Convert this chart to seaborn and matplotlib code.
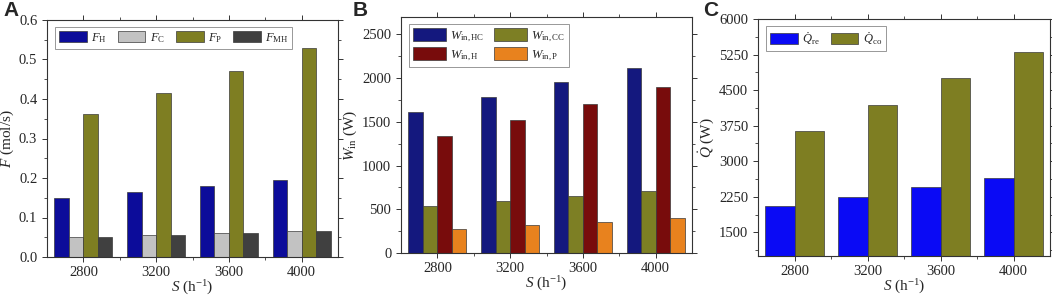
import numpy as np
import pandas as pd
import matplotlib
matplotlib.use("Agg")
import matplotlib.pyplot as plt
from matplotlib.ticker import MultipleLocator, FixedLocator
import seaborn as sns

# ---------------- data ----------------
categories = ["2800", "3200", "3600", "4000"]

F_H = [0.150, 0.165, 0.180, 0.195]
F_C = [0.050, 0.055, 0.060, 0.065]
F_P = [0.362, 0.416, 0.472, 0.528]
F_MH = [0.050, 0.055, 0.060, 0.065]

W_HC = [1615, 1785, 1955, 2120]
W_CC = [535, 590, 650, 705]
W_H = [1340, 1525, 1710, 1895]
W_P = [280, 315, 355, 395]

Q_re = [2050, 2250, 2450, 2640]
Q_co = [3640, 4180, 4750, 5310]

labels_A = [r"$F_\mathrm{H}$", r"$F_\mathrm{C}$", r"$F_\mathrm{P}$", r"$F_\mathrm{MH}$"]
labels_B = [r"$W_\mathrm{in,HC}$", r"$W_\mathrm{in,CC}$", r"$W_\mathrm{in,H}$", r"$W_\mathrm{in,P}$"]
labels_C = [r"$\dot{Q}_\mathrm{re}$", r"$\dot{Q}_\mathrm{co}$"]

colors_A = ["#0C0C9A", "#C2C2C2", "#7E7E22", "#404040"]
colors_B = ["#14187E", "#7D7F24", "#780C0C", "#E8821E"]
colors_C = ["#0A0AF5", "#7E7E22"]

# ---------------- style ----------------
sns.set_theme(style="ticks")
plt.rcParams["font.family"] = ["Liberation Serif", "DejaVu Serif"]
plt.rcParams["mathtext.fontset"] = "custom"
plt.rcParams["mathtext.rm"] = "Liberation Serif"
plt.rcParams["mathtext.it"] = "Liberation Serif:italic"
plt.rcParams["mathtext.bf"] = "Liberation Serif:bold"
plt.rcParams["axes.linewidth"] = 0.8
plt.rcParams["axes.edgecolor"] = "#333333"


def long_df(series, names):
    rows = []
    for vals, nm in zip(series, names):
        for c, v in zip(categories, vals):
            rows.append({"S": c, "val": v, "series": nm})
    return pd.DataFrame(rows)


fig = plt.figure(figsize=(10.52, 2.97), dpi=100)
W, H = 1052, 297


def add_ax(l, r, t, b):
    return fig.add_axes([l / W, 1 - b / H, (r - l) / W, (b - t) / H])


axA = add_ax(47, 338, 20, 257)
axB = add_ax(401, 692, 17, 253)
axC = add_ax(758, 1050, 19, 256)


def draw(ax, series, names, colors, ylim, major, minor, ylabel, ncol,
         order=None, leg_kw=None):
    df = long_df(series, names)
    sns.barplot(data=df, x="S", y="val", hue="series", hue_order=names,
                palette=colors, ax=ax, edgecolor="#3a3a3a", linewidth=0.5,
                saturation=1, legend=True)
    ax.set_ylim(*ylim)
    ax.set_xlim(-0.5, 3.5)
    ax.yaxis.set_major_locator(MultipleLocator(major))
    ax.yaxis.set_minor_locator(MultipleLocator(minor))
    ax.xaxis.set_minor_locator(FixedLocator([0.5, 1.5, 2.5]))
    ax.tick_params(which="both", direction="out", top=True, right=True,
                   labelsize=10.5, color="#333333")
    ax.tick_params(which="major", length=3.5, width=0.7)
    ax.tick_params(which="minor", length=2, width=0.6)
    ax.tick_params(axis="x", which="major", pad=3)
    for s in ax.spines.values():
        s.set_visible(True)
    ax.set_xlabel(r"$S$ (h$^{-1}$)", fontsize=11, labelpad=0)
    ax.set_ylabel(ylabel, fontsize=11, labelpad=2)
    h, l = ax.get_legend_handles_labels()
    ax.get_legend().remove()
    if order is not None:
        h = [h[i] for i in order]
        l = [l[i] for i in order]
    kw = dict(ncol=ncol, loc="upper left", bbox_to_anchor=(0.02, 0.98),
              fontsize=9, frameon=True, fancybox=False, framealpha=1,
              edgecolor="#888888", handlelength=2.2, handleheight=1.0,
              columnspacing=0.9, handletextpad=0.35, borderpad=0.3,
              labelspacing=0.2, borderaxespad=0.2)
    if leg_kw:
        kw.update(leg_kw)
    leg = ax.legend(h, l, **kw)
    leg.get_frame().set_linewidth(0.6)
    return ax


draw(axA, [F_H, F_C, F_P, F_MH], labels_A, colors_A, (0, 0.6), 0.1, 0.05,
     r"$F$ (mol/s)", 4)
axA.yaxis.set_major_formatter(matplotlib.ticker.FormatStrFormatter("%.1f"))

draw(axB, [W_HC, W_CC, W_H, W_P], labels_B, colors_B, (0, 2700), 500, 250,
     r"$W_\mathrm{in}$ (W)", 2, order=[0, 2, 1, 3],
     leg_kw=dict(handlelength=2.6, handleheight=1.2, labelspacing=0.3,
                 columnspacing=0.8))

draw(axC, [Q_re, Q_co], labels_C, colors_C, (1000, 6000), 750, 375,
     r"$\dot{Q}$ (W)", 2)

for x, t in [(3, "A"), (353, "B"), (703, "C")]:
    fig.text(x / W, 1 - 1 / H, t, fontsize=15, fontweight="bold",
             family=["Liberation Sans", "DejaVu Sans"], va="top", ha="left")

fig.savefig("out.png", dpi=100)
